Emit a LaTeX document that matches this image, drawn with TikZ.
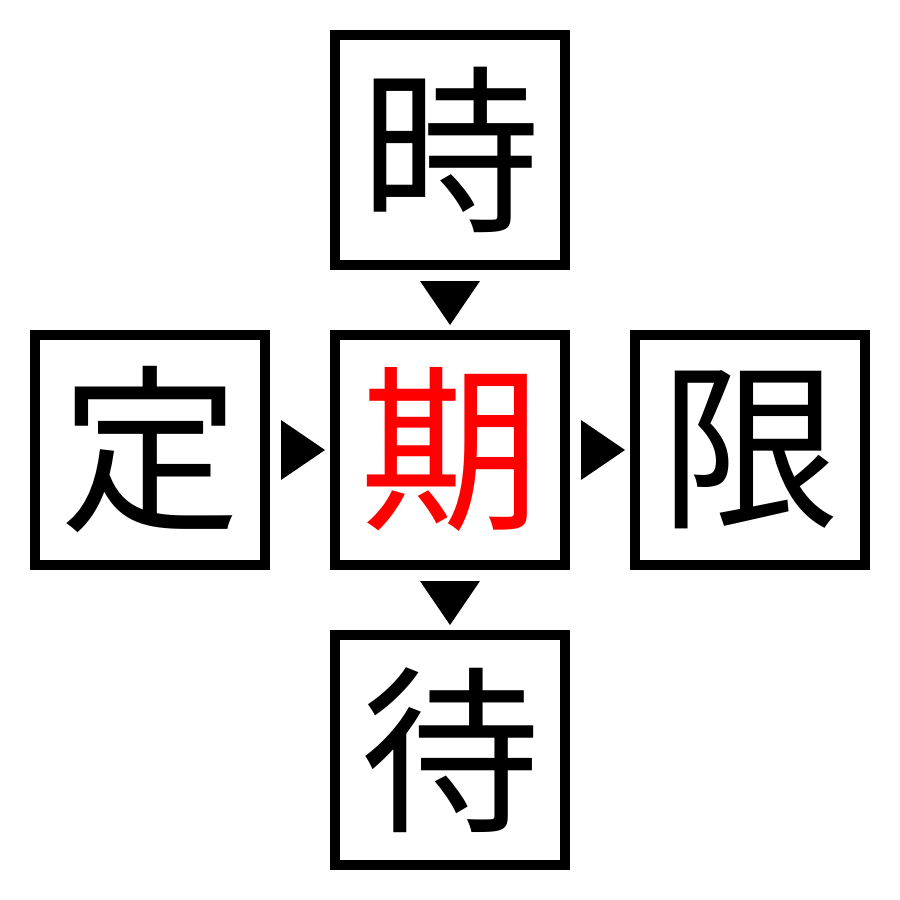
\documentclass[tikz,border=0pt]{standalone}
\usepackage{fontspec}
\newfontfamily\cjk{Noto Sans CJK JP}
\begin{document}
\begin{tikzpicture}[x=1pt,y=-1pt,
  charbox/.style={draw=black,line width=10pt,minimum size=230pt,inner sep=0pt,font=\cjk\fontsize{180}{180}\selectfont},
  tri/.style={fill=black,draw=none}]
\useasboundingbox (0,0) rectangle (900,900);
\node[charbox] (top) at (450,150) {時};
\node[charbox] (left) at (150,450) {定};
\node[charbox,text=red] (mid) at (450,450) {期};
\node[charbox] (right) at (750,450) {限};
\node[charbox] (bot) at (450,750) {待};
\fill[tri] (420,281) -- (480,281) -- (450,325) -- cycle;
\fill[tri] (420,581) -- (480,581) -- (450,625) -- cycle;
\fill[tri] (281,420) -- (281,480) -- (325,450) -- cycle;
\fill[tri] (581,420) -- (581,480) -- (625,450) -- cycle;
\end{tikzpicture}
\end{document}
